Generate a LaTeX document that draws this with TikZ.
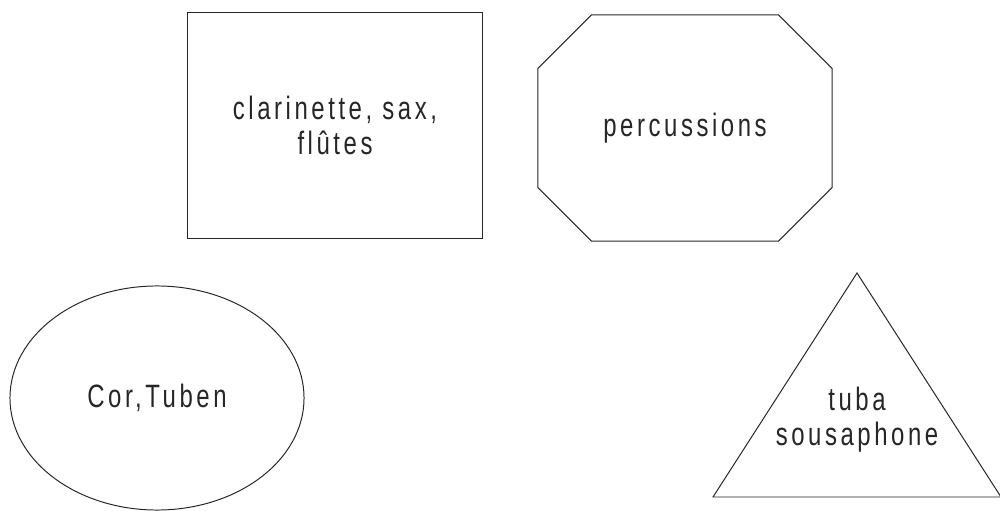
\documentclass[tikz,border=0pt]{standalone}
\usepackage{fontspec}
\setmainfont{Liberation Sans}[FakeStretch=0.74, LetterSpace=11]
\usepackage{tikz}
\usetikzlibrary{shapes.geometric, shapes.misc}

\begin{document}
\begin{tikzpicture}[
    x=0.025cm, y=-0.025cm,
    form/.style={
        draw=black!85,
        line width=0.7pt,
        inner sep=0pt,
        align=center,
        text=black!85,
        font=\fontsize{23}{25}\selectfont
    },
    lab/.style={align=center, text=black!85, font=\fontsize{23}{25}\selectfont}
]
\useasboundingbox (0,0) rectangle (1000,511);

\node[form, rectangle, minimum width=7.35cm, minimum height=5.625cm] (bois) at (335,125.5) {clarinette, sax,\\flûtes};
\node[form, chamfered rectangle, chamfered rectangle xsep=0.96cm, chamfered rectangle ysep=0.96cm,
      minimum width=7.35cm, minimum height=5.65cm] (perc) at (685,128) {percussions};
\node[form, ellipse, minimum width=7.35cm, minimum height=5.6cm] (cuivres) at (157,398) {Cor,Tuben};

\coordinate (sommet) at (857,273);
\coordinate (gauche) at (713,497);
\coordinate (droite) at (1001,497);
\draw[draw=black!85, line width=0.7pt] (sommet) -- (gauche) -- (droite) -- cycle;
\node[lab] (basses) at (857,420) {tuba\\sousaphone};

\end{tikzpicture}
\end{document}
